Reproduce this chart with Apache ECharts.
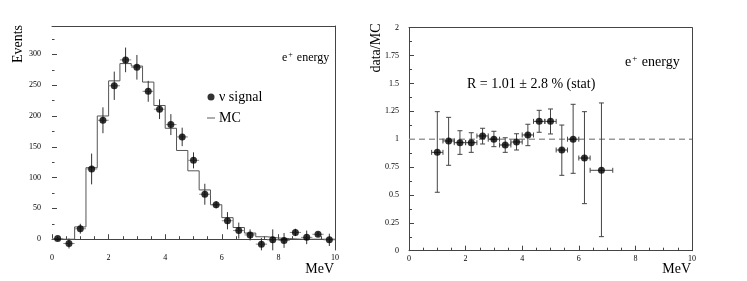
<!DOCTYPE html>
<html>
<head>
<meta charset="utf-8">
<script src="https://cdn.jsdelivr.net/npm/echarts@6/dist/echarts.min.js"></script>
<style>html,body{margin:0;padding:0;background:#fff}#c{width:747px;height:281px}</style>
</head>
<body>
<div id="c"></div>
<script>
// ---- Left panel: e+ energy spectrum ----
const energyCenters = [0.2,0.6,1.0,1.4,1.8,2.2,2.6,3.0,3.4,3.8,4.2,4.6,5.0,5.4,5.8,6.2,6.6,7.0,7.4,7.8,8.2,8.6,9.0,9.4,9.8];
const signalEvents  = [1,-7,17,114,193,249,291,279,240,211,186,166,128,73,56,30,14,7,-8,-1,-2,11,3,8,-1];
const signalErr     = [3,8,8,25,21,23,20,20,17,16,17,15,13,17,6,14,13,9,10,17,12,6,11,4,10];
const binHalfWidth  = 0.2;
const mcBinEdges    = [0,0.4,0.8,1.2,1.6,2.0,2.4,2.8,3.2,3.6,4.0,4.4,4.8,5.2,5.6,6.0,6.4,6.8,7.2,7.6,8.0,8.4,8.8,9.2,9.6,10.0];
const mcEvents      = [0,0,20,116,200,257,285,281,255,217,180,144,111,80,56,35,19,10,4,2,1,0,0,0,0];
const eventsMajorTicks = [0,50,100,150,200,250,300];
const eventsMinorTicks = [-25,25,75,125,175,225,275,325];

// ---- Right panel: data/MC ratio ----
const ratioX    = [1.0,1.4,1.8,2.2,2.6,3.0,3.4,3.8,4.2,4.6,5.0,5.4,5.8,6.2,6.8];
const ratio     = [0.882,0.984,0.969,0.969,1.029,1.0,0.948,0.975,1.038,1.16,1.16,0.903,1.0,0.831,0.721];
const ratioHi   = [1.247,1.196,1.076,1.058,1.098,1.071,1.013,1.049,1.134,1.259,1.271,1.127,1.313,1.247,1.325];
const ratioLo   = [0.524,0.766,0.864,0.882,0.957,0.933,0.882,0.903,0.942,1.062,1.047,0.676,0.694,0.422,0.126];
const ratioXErr = [0.2,0.2,0.2,0.2,0.2,0.2,0.2,0.2,0.2,0.2,0.2,0.2,0.2,0.2,0.4];
const ratioRef  = 1;

const FONT = 'Liberation Serif';
const AX = '#444';

const mcStep = mcBinEdges.map((x, i) => [x, i < mcEvents.length ? mcEvents[i] : mcEvents[mcEvents.length - 1]]);
const leftErrData = energyCenters.map((x, i) => [x, signalEvents[i], signalEvents[i] - signalErr[i], signalEvents[i] + signalErr[i], binHalfWidth]);
const rightErrData = ratioX.map((x, i) => [x, ratio[i], ratioLo[i], ratioHi[i], ratioXErr[i]]);

function errRender(withCaps, vColor, hColor) {
  return function (params, api) {
    const x = api.value(0), y = api.value(1), lo = api.value(2), hi = api.value(3), xe = api.value(4);
    const pLo = api.coord([x, lo]), pHi = api.coord([x, hi]);
    const pL = api.coord([x - xe, y]), pR = api.coord([x + xe, y]);
    const ch = [
      {type: 'line', shape: {x1: pLo[0], y1: pLo[1], x2: pHi[0], y2: pHi[1]}, style: {stroke: vColor, lineWidth: 1}},
      {type: 'line', shape: {x1: pL[0], y1: pL[1], x2: pR[0], y2: pR[1]}, style: {stroke: hColor, lineWidth: 1}}
    ];
    if (withCaps) {
      const c = 2.5;
      ch.push({type: 'line', shape: {x1: pLo[0]-c, y1: pLo[1], x2: pLo[0]+c, y2: pLo[1]}, style: {stroke: vColor, lineWidth: 1}});
      ch.push({type: 'line', shape: {x1: pHi[0]-c, y1: pHi[1], x2: pHi[0]+c, y2: pHi[1]}, style: {stroke: vColor, lineWidth: 1}});
      ch.push({type: 'line', shape: {x1: pL[0], y1: pL[1]-c, x2: pL[0], y2: pL[1]+c}, style: {stroke: hColor, lineWidth: 1}});
      ch.push({type: 'line', shape: {x1: pR[0], y1: pR[1]-c, x2: pR[0], y2: pR[1]+c}, style: {stroke: hColor, lineWidth: 1}});
    }
    return {type: 'group', children: ch};
  };
}

const lbl = {color: '#000', fontFamily: FONT, fontSize: 8};

const xBottom = (gi) => ({
  type: 'value', gridIndex: gi, min: 0, max: 10, interval: 2, position: 'bottom',
  axisLine: {show: true, lineStyle: {color: AX, width: 1}},
  axisTick: {show: true, inside: true, length: 5, lineStyle: {color: AX}},
  minorTick: {show: true, splitNumber: 4, length: 3, lineStyle: {color: AX}},
  axisLabel: Object.assign({margin: 4}, lbl),
  splitLine: {show: false}
});
const xTop = (gi) => ({
  type: 'value', gridIndex: gi, min: 0, max: 10, position: 'top',
  axisLine: {show: true, onZero: false, lineStyle: {color: AX, width: 1}},
  axisTick: {show: false}, axisLabel: {show: false}, splitLine: {show: false}
});

const option = {
  animation: false,
  backgroundColor: '#fff',
  grid: [
    {left: 52, top: 26, width: 283, height: 224},
    {left: 409, top: 27.7, width: 283, height: 223}
  ],
  xAxis: [xBottom(0), xTop(0), xBottom(1), xTop(1)],
  yAxis: [
    {type: 'value', gridIndex: 0, min: -17.5, max: 346, position: 'left',
     axisLine: {show: false},
     axisTick: {show: true, inside: true, length: 5, customValues: eventsMajorTicks, lineStyle: {color: AX}},
     axisLabel: Object.assign({margin: 11, customValues: eventsMajorTicks}, lbl),
     splitLine: {show: false}},
    {type: 'value', gridIndex: 0, min: -17.5, max: 346, position: 'left',
     axisLine: {show: false},
     axisTick: {show: true, inside: true, length: 2.5, customValues: eventsMinorTicks, lineStyle: {color: AX}},
     axisLabel: {show: false}, splitLine: {show: false}},
    {type: 'value', gridIndex: 0, min: -17.5, max: 346, position: 'right',
     axisLine: {show: true, onZero: false, lineStyle: {color: AX}},
     axisTick: {show: false}, axisLabel: {show: false}, splitLine: {show: false}},
    {type: 'value', gridIndex: 1, min: 0, max: 2, interval: 0.25, position: 'left',
     axisLine: {show: true, onZero: false, lineStyle: {color: AX}},
     axisTick: {show: true, inside: true, length: 5, lineStyle: {color: AX}},
     minorTick: {show: true, splitNumber: 2, length: 3, lineStyle: {color: AX}},
     axisLabel: Object.assign({margin: 10}, lbl),
     splitLine: {show: false}},
    {type: 'value', gridIndex: 1, min: 0, max: 2, position: 'right',
     axisLine: {show: true, onZero: false, lineStyle: {color: AX}},
     axisTick: {show: false}, axisLabel: {show: false}, splitLine: {show: false}}
  ],
  legend: {
    data: [
      {name: 'ν signal', icon: 'circle'},
      {name: 'MC', icon: 'path://M0,0 L10,0 L10,1.2 L0,1.2 Z'}
    ],
    orient: 'vertical', left: 207, top: 90, itemGap: 7,
    itemWidth: 8, itemHeight: 7, padding: 0, symbolKeepAspect: true,
    textStyle: {fontFamily: FONT, fontSize: 14, color: '#000', padding: [0, 0, 0, -1]}
  },
  series: [
    {name: 'MC', type: 'line', xAxisIndex: 0, yAxisIndex: 0, step: 'end', data: mcStep,
     symbol: 'none', lineStyle: {color: '#555', width: 1}, itemStyle: {color: '#555'}, z: 2},
    {type: 'custom', xAxisIndex: 0, yAxisIndex: 0, data: leftErrData,
     renderItem: errRender(false, '#333', '#888'), z: 3},
    {name: 'ν signal', type: 'scatter', xAxisIndex: 0, yAxisIndex: 0,
     data: energyCenters.map((x, i) => [x, signalEvents[i]]),
     symbol: 'circle', symbolSize: 7, itemStyle: {color: '#000'}, z: 4},
    {type: 'line', xAxisIndex: 2, yAxisIndex: 3, data: [[0, ratioRef], [10, ratioRef]],
     symbol: 'none', lineStyle: {color: '#999', width: 1.5, type: [6, 4]}, z: 2},
    {type: 'custom', xAxisIndex: 2, yAxisIndex: 3, data: rightErrData,
     renderItem: errRender(true, '#444', '#444'), z: 3},
    {type: 'scatter', xAxisIndex: 2, yAxisIndex: 3,
     data: ratioX.map((x, i) => [x, ratio[i]]),
     symbol: 'circle', symbolSize: 7, itemStyle: {color: '#000'}, z: 4}
  ],
  graphic: [
    {type: 'text', x: 18, y: 44, rotation: Math.PI / 2,
     style: {text: 'Events', fontFamily: FONT, fontSize: 14, fill: '#000', align: 'center', verticalAlign: 'middle'}},
    {type: 'text', x: 334, y: 269,
     style: {text: 'MeV', fontFamily: FONT, fontSize: 14, fill: '#000', align: 'right', verticalAlign: 'middle'}},
    {type: 'text', x: 282, y: 58,
     style: {text: '{b|e}{s|+}{b| energy}', fontFamily: FONT, fill: '#000', verticalAlign: 'middle',
             rich: {b: {fontFamily: FONT, fontSize: 12, fill: '#000'}, s: {fontFamily: FONT, fontSize: 8, fill: '#000', verticalAlign: 'top', padding: [0, 1, 6, 1]}}}},
    {type: 'text', x: 376, y: 48, rotation: Math.PI / 2,
     style: {text: 'data/MC', fontFamily: FONT, fontSize: 14, fill: '#000', align: 'center', verticalAlign: 'middle'}},
    {type: 'text', x: 467, y: 84,
     style: {text: 'R = 1.01 ± 2.8 % (stat)', fontFamily: FONT, fontSize: 14, fill: '#000', align: 'left', verticalAlign: 'middle'}},
    {type: 'text', x: 625, y: 62,
     style: {text: '{b|e}{s|+}{b| energy}', fontFamily: FONT, fill: '#000', verticalAlign: 'middle',
             rich: {b: {fontFamily: FONT, fontSize: 14, fill: '#000'}, s: {fontFamily: FONT, fontSize: 9, fill: '#000', verticalAlign: 'top', padding: [0, 1, 7, 1]}}}},
    {type: 'text', x: 691, y: 269,
     style: {text: 'MeV', fontFamily: FONT, fontSize: 14, fill: '#000', align: 'right', verticalAlign: 'middle'}}
  ]
};
echarts.init(document.getElementById('c'), null, {renderer: 'canvas'}).setOption(option);
</script>
</body>
</html>
